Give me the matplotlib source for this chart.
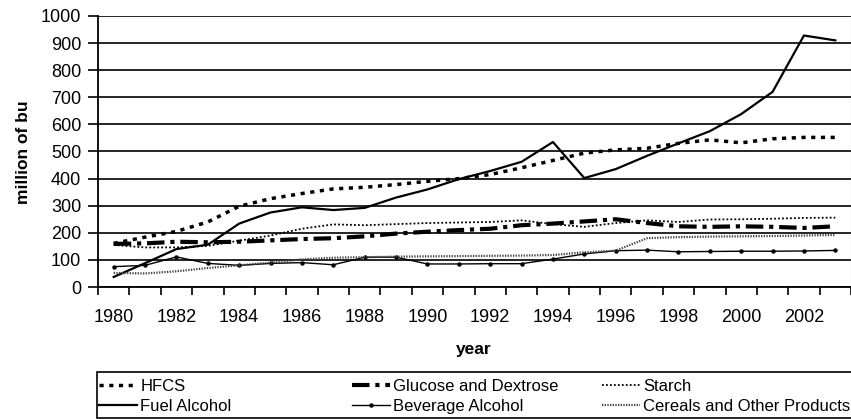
import numpy as np
import matplotlib
matplotlib.use("Agg")
import matplotlib.pyplot as plt
from matplotlib.lines import Line2D
from matplotlib.patches import Rectangle

plt.rcParams['font.family'] = ['Liberation Sans', 'DejaVu Sans']

years = list(range(1980, 2004))
tick_labels = [str(y) for y in range(1980, 2004, 2)]

hfcs = [161, 184, 205, 240, 298, 326, 345, 362, 368, 378, 390, 400, 415, 440, 467, 494, 506, 512, 530, 543, 532, 547, 552, 552]
glucose = [159, 161, 167, 165, 167, 172, 177, 180, 187, 197, 204, 210, 215, 228, 234, 242, 250, 236, 224, 222, 224, 222, 218, 224]
starch = [155, 146, 146, 152, 171, 190, 215, 231, 228, 232, 236, 238, 240, 246, 232, 222, 236, 246, 240, 249, 250, 252, 255, 256]
fuel = [37, 88, 140, 156, 234, 275, 294, 284, 292, 330, 360, 398, 428, 462, 535, 402, 435, 484, 530, 575, 638, 720, 928, 910]
beverage = [75, 80, 111, 87, 80, 87, 90, 82, 110, 110, 85, 85, 86, 86, 103, 122, 134, 136, 130, 131, 132, 132, 133, 135]
cereals = [52, 50, 58, 70, 80, 90, 102, 108, 110, 112, 113, 114, 115, 116, 118, 128, 134, 180, 184, 186, 187, 188, 190, 192]

W, H = 851, 419
fig = plt.figure(figsize=(W / 100, H / 100), dpi=100)
ax = fig.add_axes([98 / W, 1 - 287 / H, 753 / W, 271 / H])

x = np.arange(len(years))

styles = {
    'HFCS': dict(color='black', lw=2.5, ls=(0, (1.2, 1.6)), dash_capstyle='butt'),
    'Glucose and Dextrose': dict(color='black', lw=3.0, ls=(0, (4.2, 1.4, 1.0, 1.4)), dash_capstyle='butt'),
    'Starch': dict(color='black', lw=1.3, ls=(0, (1.0, 1.2))),
    'Fuel Alcohol': dict(color='black', lw=1.6, ls='-'),
    'Beverage Alcohol': dict(color='black', lw=1.0, ls='-', marker='o', ms=2.2),
    'Cereals and Other Products': dict(color='#444444', lw=1.6, ls=(0, (0.6, 0.6))),
}
series = {
    'HFCS': hfcs,
    'Glucose and Dextrose': glucose,
    'Starch': starch,
    'Fuel Alcohol': fuel,
    'Beverage Alcohol': beverage,
    'Cereals and Other Products': cereals,
}

for name, vals in series.items():
    ax.plot(x, vals, **styles[name], zorder=3)

ax.set_xlim(-0.5, len(years) - 0.5)
ax.set_ylim(0, 1000)
ax.set_yticks(np.arange(0, 1001, 100))
ax.yaxis.grid(True, color='black', lw=1.2)
ax.set_axisbelow(True)

ax.set_xticks(np.arange(-0.5, len(years), 1))
ax.set_xticklabels([])
ax.set_xticks(np.arange(0, len(years), 2), minor=True)
ax.set_xticklabels(tick_labels, minor=True)
ax.tick_params(axis='x', which='major', length=6, width=1.2, direction='out')
ax.tick_params(axis='x', which='minor', length=0, pad=16, labelsize=13)
ax.tick_params(axis='y', length=7, width=1.2, direction='out', pad=5, labelsize=13)

ax.spines['top'].set_visible(False)
ax.spines['right'].set_color('#999999')
ax.spines['right'].set_linewidth(0.8)
ax.spines['left'].set_linewidth(1.3)
ax.spines['bottom'].set_linewidth(1.3)

fig.text(24 / W, 1 - 152 / H, 'million of bu', rotation=90, ha='center', va='center',
         fontsize=12.5, fontweight='bold')
fig.text(474 / W, 1 - 349 / H, 'year', ha='center', va='center',
         fontsize=12.5, fontweight='bold')

# legend box
fig.patches.append(Rectangle((97 / W, 1 - 418 / H), (W - 96) / W, 46 / H,
                             transform=fig.transFigure, fill=False, ec='black', lw=1.2))

cols = [['HFCS', 'Fuel Alcohol'],
        ['Glucose and Dextrose', 'Beverage Alcohol'],
        ['Starch', 'Cereals and Other Products']]
col_x = [97, 350, 600]
for cx, names in zip(col_x, cols):
    handles = [Line2D([], [], **styles[n]) for n in names]
    fig.legend(handles, names, loc='upper left',
               bbox_to_anchor=(cx / W, 1 - 377 / H), frameon=False,
               fontsize=12, handlelength=2.3, handletextpad=0.2,
               labelspacing=0.3, borderaxespad=0, borderpad=0.1)

fig.savefig('out.png', dpi=100)
